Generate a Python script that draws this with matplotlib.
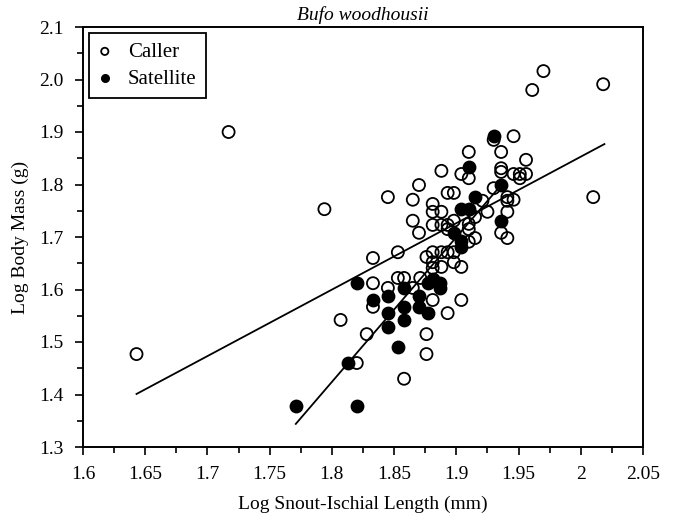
import numpy as np
import matplotlib
matplotlib.use("Agg")
import matplotlib.pyplot as plt
from matplotlib.ticker import MultipleLocator, FuncFormatter

# Log snout-ischial length (mm) / log body mass (g)
caller_x = [1.643, 1.717, 1.794, 1.807, 1.820, 1.828, 1.833, 1.833, 1.833, 1.845,
            1.845, 1.853, 1.853, 1.858, 1.858, 1.865, 1.865, 1.865, 1.870, 1.870,
            1.871, 1.876, 1.876, 1.876, 1.881, 1.881, 1.881, 1.881, 1.881, 1.881,
            1.881, 1.888, 1.888, 1.888, 1.888, 1.888, 1.893, 1.893, 1.893, 1.893,
            1.893, 1.898, 1.898, 1.898, 1.898, 1.904, 1.904, 1.904, 1.910, 1.910,
            1.910, 1.910, 1.910, 1.915, 1.915, 1.921, 1.925, 1.930, 1.930, 1.936,
            1.936, 1.936, 1.936, 1.941, 1.941, 1.941, 1.941, 1.946, 1.946, 1.946,
            1.951, 1.951, 1.956, 1.956, 1.961, 1.970, 2.010, 2.018]
caller_y = [1.477, 1.900, 1.753, 1.542, 1.460, 1.515, 1.660, 1.612, 1.567, 1.776,
            1.603, 1.671, 1.622, 1.622, 1.430, 1.771, 1.731, 1.603, 1.799, 1.708,
            1.622, 1.662, 1.515, 1.477, 1.763, 1.748, 1.723, 1.671, 1.652, 1.641,
            1.580, 1.826, 1.748, 1.723, 1.671, 1.643, 1.784, 1.723, 1.715, 1.671,
            1.555, 1.784, 1.731, 1.671, 1.652, 1.820, 1.643, 1.580, 1.862, 1.812,
            1.725, 1.715, 1.691, 1.738, 1.698, 1.769, 1.748, 1.885, 1.793, 1.862,
            1.831, 1.824, 1.708, 1.776, 1.769, 1.748, 1.698, 1.892, 1.820, 1.771,
            1.820, 1.812, 1.847, 1.820, 1.980, 2.016, 1.776, 1.991]

satellite_x = [1.771, 1.813, 1.820, 1.820, 1.833, 1.845, 1.845, 1.845, 1.853, 1.858,
               1.858, 1.858, 1.870, 1.870, 1.877, 1.877, 1.881, 1.887, 1.887, 1.898,
               1.904, 1.910, 1.904, 1.904, 1.910, 1.915, 1.930, 1.936, 1.936]
satellite_y = [1.378, 1.460, 1.612, 1.378, 1.580, 1.588, 1.555, 1.529, 1.491, 1.603,
               1.567, 1.542, 1.588, 1.567, 1.555, 1.612, 1.620, 1.612, 1.603, 1.708,
               1.753, 1.753, 1.692, 1.681, 1.833, 1.776, 1.892, 1.799, 1.731]

# regression lines (end points)
caller_fit_x = [1.643, 2.019]
caller_fit_y = [1.401, 1.877]
satellite_fit_x = [1.771, 1.936]
satellite_fit_y = [1.344, 1.799]

plt.rcParams["font.family"] = ["Liberation Serif", "DejaVu Serif"]
plt.rcParams["font.size"] = 14

fig = plt.figure(figsize=(6.75, 5.2), dpi=100)
ax = fig.add_axes([83 / 675, 73 / 520, 560 / 675, 420 / 520])

ax.scatter(caller_x, caller_y, s=75, facecolors="none", edgecolors="black",
           linewidths=1.3, label="Caller", zorder=3)
ax.scatter(satellite_x, satellite_y, s=75, facecolors="black", edgecolors="black",
           linewidths=1.3, label="Satellite", zorder=3)
ax.plot(caller_fit_x, caller_fit_y, color="black", lw=1.3, zorder=4)
ax.plot(satellite_fit_x, satellite_fit_y, color="black", lw=1.3, zorder=4)

ax.set_xlim(1.6, 2.05)
ax.set_ylim(1.3, 2.1)
ax.xaxis.set_major_locator(MultipleLocator(0.05))
ax.xaxis.set_minor_locator(MultipleLocator(0.025))
ax.yaxis.set_major_locator(MultipleLocator(0.1))
ax.yaxis.set_minor_locator(MultipleLocator(0.05))
ax.xaxis.set_major_formatter(FuncFormatter(lambda v, p: "%g" % round(v, 3)))
ax.yaxis.set_major_formatter(FuncFormatter(lambda v, p: "%.1f" % v))
ax.tick_params(which="both", direction="out", width=1.2, top=False, right=False)
ax.tick_params(which="major", length=6, labelsize=14, pad=8)
ax.tick_params(which="minor", length=4)
for s in ax.spines.values():
    s.set_linewidth(1.4)

ax.set_xlabel("Log Snout-Ischial Length (mm)", fontsize=14, labelpad=9)
ax.set_ylabel("Log Body Mass (g)", fontsize=14, labelpad=7)
ax.set_title("Bufo woodhousii", fontsize=14, style="italic", pad=5)

leg = ax.legend(loc="upper left", bbox_to_anchor=(0.011, 0.986), borderaxespad=0,
                fancybox=False, edgecolor="black", framealpha=1, markerscale=0.6,
                handlelength=0.6, handletextpad=0.8, fontsize=15, borderpad=0.45,
                labelspacing=0.35)
leg.get_frame().set_linewidth(1.3)

fig.savefig("out.png", dpi=100)
